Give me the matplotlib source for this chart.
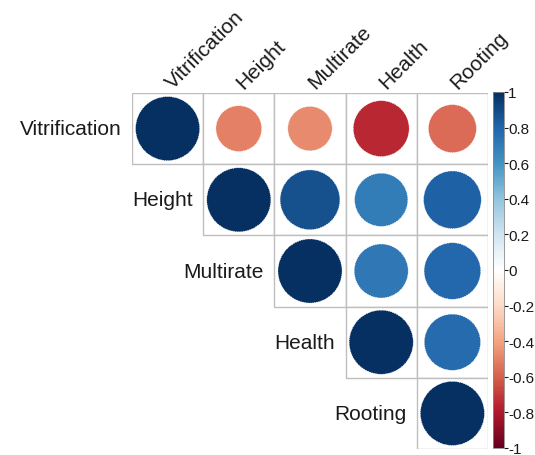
import numpy as np
import matplotlib
matplotlib.use("Agg")
import matplotlib.pyplot as plt
from matplotlib.colors import LinearSegmentedColormap, Normalize
from matplotlib.patches import Circle, Rectangle
from matplotlib.colorbar import ColorbarBase

plt.rcParams['font.family'] = ['Liberation Sans', 'DejaVu Sans']

variables = ["Vitrification", "Height", "Multirate", "Health", "Rooting"]

# Upper-triangle correlation coefficients, row by row (diagonal included)
row_vitrification = [1.00, -0.51, -0.48, -0.76, -0.56]
row_height = [1.00, 0.87, 0.69, 0.81]
row_multirate = [1.00, 0.71, 0.78]
row_health = [1.00, 0.77]
row_rooting = [1.00]

cbar_ticks = [-1, -0.8, -0.6, -0.4, -0.2, 0, 0.2, 0.4, 0.6, 0.8, 1]
cbar_ticklabels = ["-1", "-0.8", "-0.6", "-0.4", "-0.2", "0",
                   "0.2", "0.4", "0.6", "0.8", "1"]

rows = [row_vitrification, row_height, row_multirate, row_health, row_rooting]
n = len(variables)
corr = np.full((n, n), np.nan)
for i, r in enumerate(rows):
    for k, v in enumerate(r):
        corr[i, i + k] = v

cmap = LinearSegmentedColormap.from_list(
    "corr_rdbu",
    ["#67001F", "#B2182B", "#D6604D", "#F4A582", "#FDDBC7", "#FFFFFF",
     "#D1E5F0", "#92C5DE", "#4393C3", "#2166AC", "#053061"], N=200)
norm = Normalize(-1, 1)

W, H = 535, 456
fig = plt.figure(figsize=(W / 100, H / 100), dpi=100)

gl, gt, gs = 132, 94, 356  # grid left, top, size in pixels
ax = fig.add_axes([gl / W, (H - gt - gs) / H, gs / W, gs / H])
ax.set_xlim(0, n)
ax.set_ylim(n, 0)
ax.axis("off")

grid_color = "#BEBEBE"
for i in range(n):
    for j in range(i, n):
        ax.add_patch(Rectangle((j, i), 1, 1, facecolor="white",
                               edgecolor=grid_color, lw=1.0, zorder=1))
        v = corr[i, j]
        rad = 0.45 * np.sqrt(abs(v))
        ax.add_patch(Circle((j + 0.5, i + 0.5), rad, facecolor=cmap(norm(v)),
                            edgecolor="white", lw=0.4, ls=(0, (2, 2)), zorder=2))

# Row labels, right-aligned before the first cell of each row
for i, name in enumerate(variables):
    ax.text(i - 0.15, i + 0.5, name, ha="right", va="center",
            fontsize=15, color="#1a1a1a", clip_on=False)

# Column labels, rotated along the top edge
for j, name in enumerate(variables):
    ax.text(j + 0.57, -0.06, name, ha="left", va="baseline", rotation=45,
            rotation_mode="anchor", fontsize=15, color="#1a1a1a", clip_on=False)

# Colour legend
cax = fig.add_axes([493 / W, (H - 449) / H, 11 / W, 356 / H])
cb = ColorbarBase(cax, cmap=cmap, norm=norm, orientation="vertical")
cb.outline.set_edgecolor("#888888")
cb.outline.set_linewidth(0.6)
cb.set_ticks(cbar_ticks)
cb.set_ticklabels(cbar_ticklabels)
cax.tick_params(labelsize=11, length=3, width=0.8, pad=0,
                colors="#1a1a1a")

fig.savefig("out.png", dpi=100)
